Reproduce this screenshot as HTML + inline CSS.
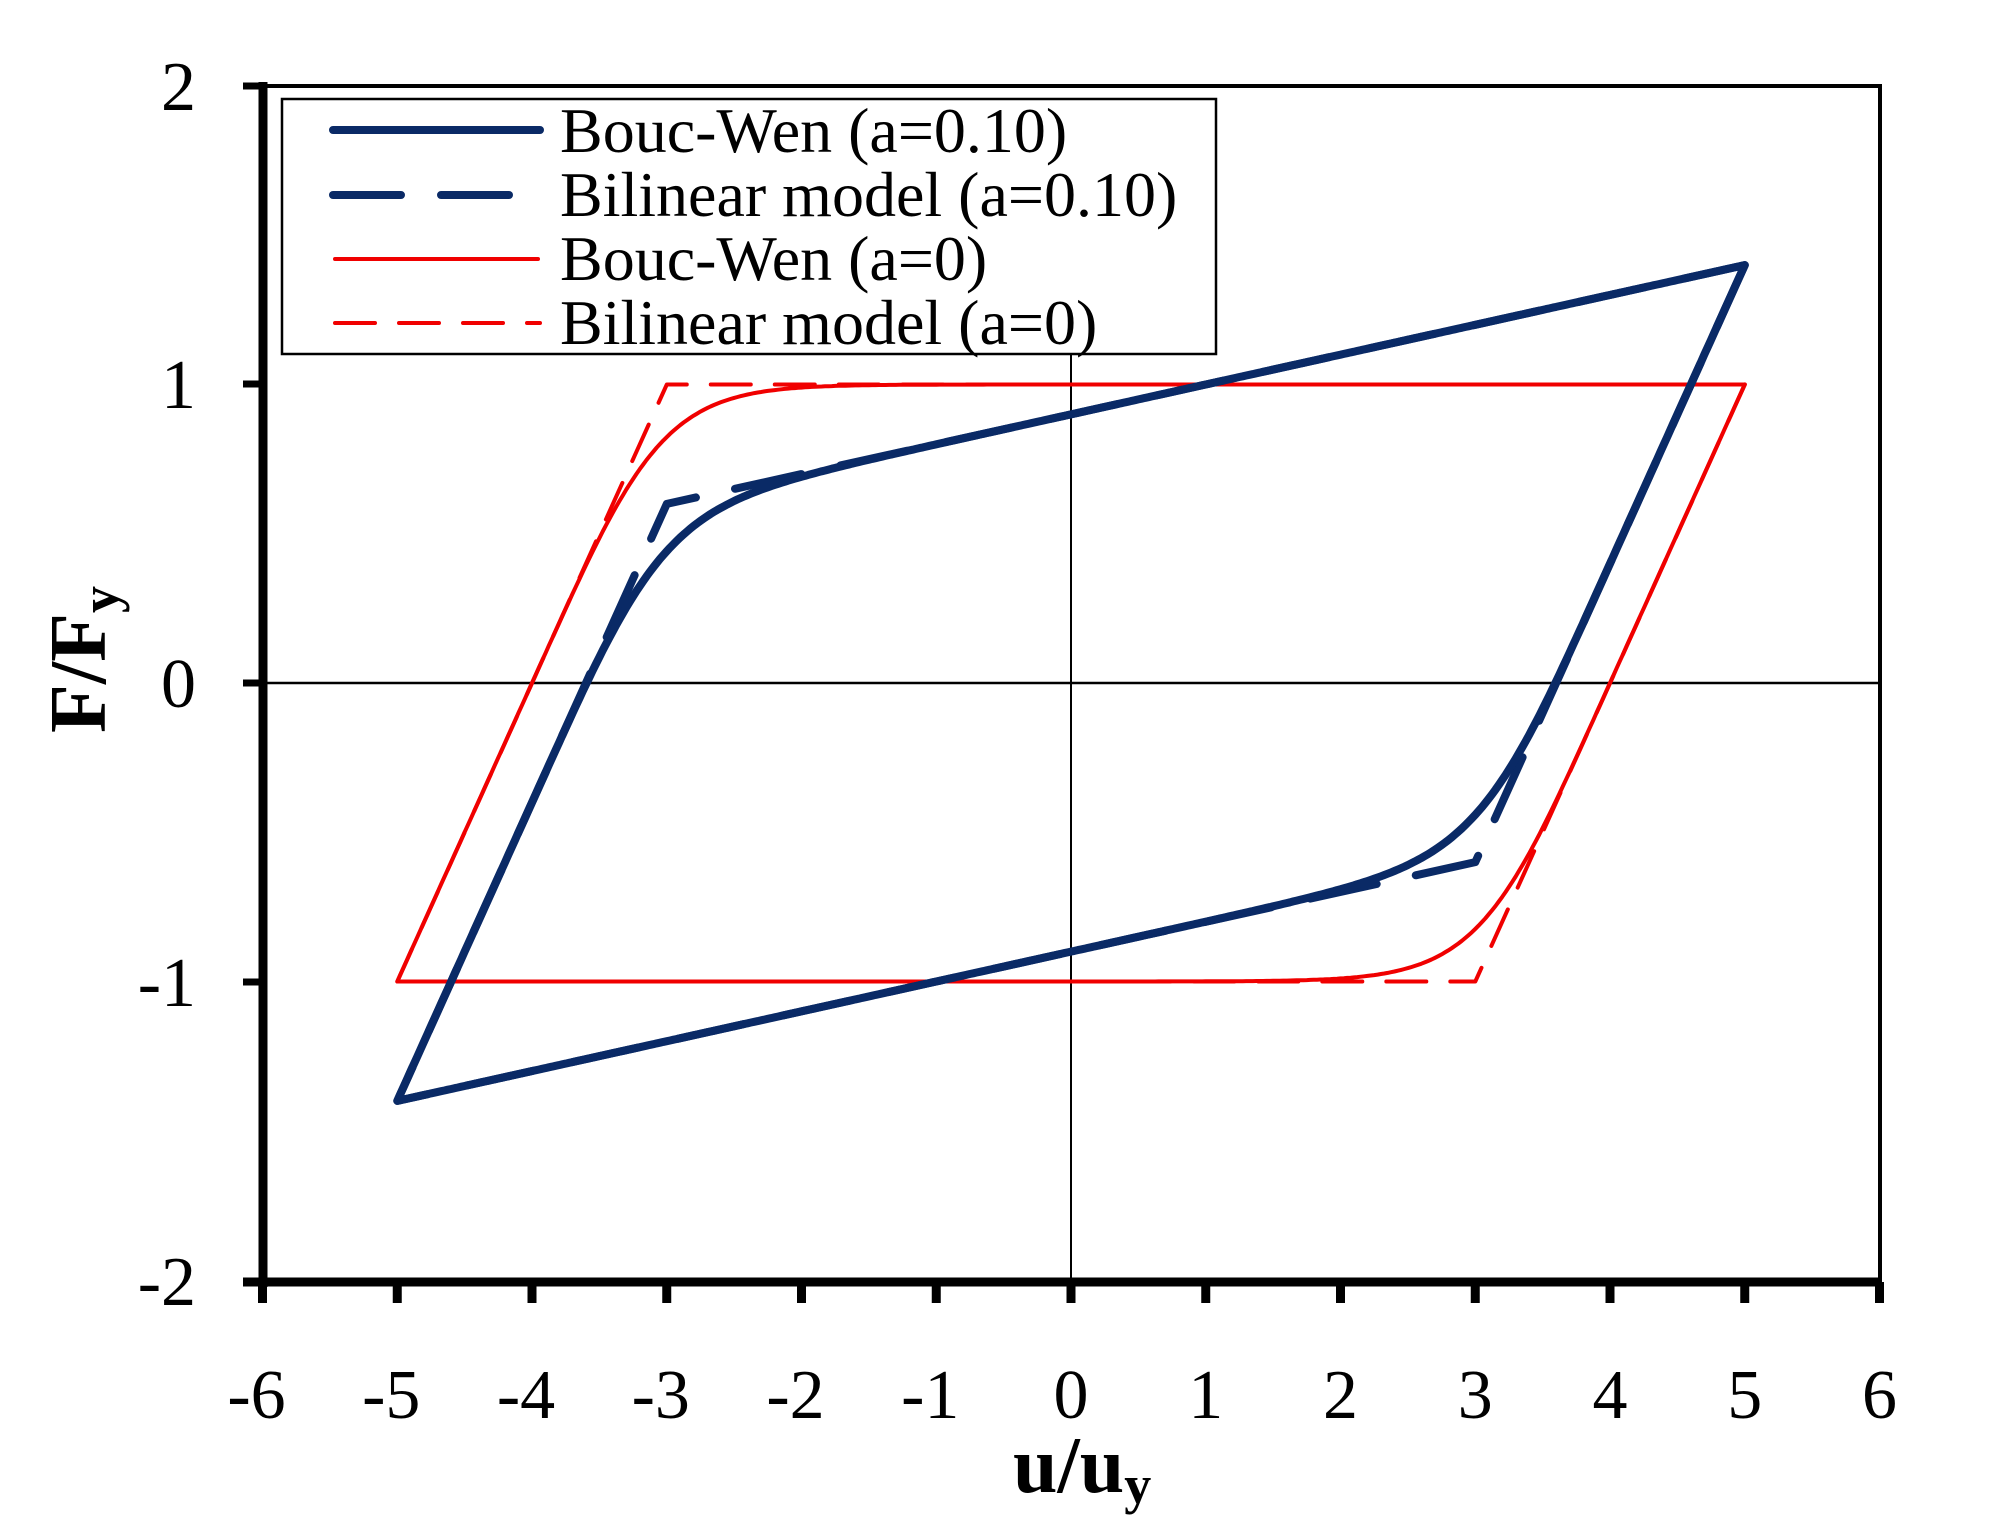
<!DOCTYPE html>
<html><head><meta charset="utf-8"><style>
html,body{margin:0;padding:0;background:#fff;}
svg{display:block;}
text{font-family:"Liberation Serif","Times New Roman",serif;fill:#000;}
</style></head><body>
<svg id="s" width="1995" height="1536" viewBox="0 0 1995 1536" xmlns="http://www.w3.org/2000/svg">
<rect width="1995" height="1536" fill="#fff"/>
<line x1="1071" y1="99" x2="1071" y2="1282" stroke="#000" stroke-width="2"/>
<line x1="263" y1="683" x2="1880" y2="683" stroke="#000" stroke-width="2.5"/>
<g id="series"></g>
<line x1="263" y1="86" x2="1880" y2="86" stroke="#000" stroke-width="4"/>
<line x1="1880" y1="84" x2="1880" y2="1282" stroke="#000" stroke-width="4"/>
<line x1="263" y1="82" x2="263" y2="1287" stroke="#000" stroke-width="9"/>
<line x1="243" y1="1282" x2="1880" y2="1282" stroke="#000" stroke-width="9"/>
<g stroke="#000" stroke-width="7">
<line x1="243" y1="86" x2="263" y2="86"/>
<line x1="243" y1="384" x2="263" y2="384"/>
<line x1="243" y1="683" x2="263" y2="683"/>
<line x1="243" y1="982" x2="263" y2="982"/>
</g>
<g id="xt" stroke="#000" stroke-width="9"></g>
<g font-size="70" text-anchor="end">
<text x="196" y="110">2</text>
<text x="196" y="408">1</text>
<text x="196" y="707">0</text>
<text x="196" y="1006">-1</text>
<text x="196" y="1305">-2</text>
</g>
<g id="xl" font-size="70" text-anchor="middle"></g>
<text x="1013" y="1492" font-size="80" font-weight="bold">u/u<tspan font-size="54" dy="11">y</tspan></text>
<text transform="translate(105,733) rotate(-90)" font-size="80" font-weight="bold">F/F<tspan font-size="54" dy="13">y</tspan></text>
<rect x="282" y="99" width="934" height="255" fill="#fff" stroke="#000" stroke-width="2.5"/>
<g stroke-linecap="round" fill="none">
<line x1="333" y1="130" x2="540" y2="130" stroke="#0a2a66" stroke-width="8"/>
<line x1="333" y1="195" x2="540" y2="195" stroke="#0a2a66" stroke-width="8" stroke-dasharray="68 40"/>
<line x1="335" y1="259" x2="538" y2="259" stroke="#f00000" stroke-width="4"/>
<line x1="335" y1="323" x2="540" y2="323" stroke="#f00000" stroke-width="4" stroke-dasharray="40 24"/>
</g>
<g font-size="64">
<text x="560" y="152">Bouc-Wen (a=0.10)</text>
<text x="560" y="216">Bilinear model (a=0.10)</text>
<text x="560" y="280">Bouc-Wen (a=0)</text>
<text x="560" y="344">Bilinear model (a=0)</text>
</g>
</svg>
<script>
(function(){
var NS="http://www.w3.org/2000/svg";
function X(u){return 1071+u*134.75;}
function Y(f){return 683-f*298.5;}
var xt=document.getElementById('xt'),xl=document.getElementById('xl');
for(var i=-6;i<=6;i++){
 var l=document.createElementNS(NS,'line');
 l.setAttribute('x1',X(i));l.setAttribute('x2',X(i));l.setAttribute('y1',1282);l.setAttribute('y2',1303);
 xt.appendChild(l);
 var t=document.createElementNS(NS,'text');
 t.setAttribute('x',X(i)-(i<0?6:0));t.setAttribute('y',1418);t.textContent=String(i);
 xl.appendChild(t);
}
function path(pts,color,w,dash){
 var d='';for(var i=0;i<pts.length;i++){d+=(i?'L':'M')+X(pts[i][0]).toFixed(1)+' '+Y(pts[i][1]).toFixed(1);}
 var p=document.createElementNS(NS,'path');
 p.setAttribute('d',d);p.setAttribute('fill','none');p.setAttribute('stroke',color);
 p.setAttribute('stroke-width',w);p.setAttribute('stroke-linejoin','round');p.setAttribute('stroke-linecap','round');
 if(dash)p.setAttribute('stroke-dasharray',dash);
 document.getElementById('series').appendChild(p);
}
function bw(a,n){
 var z=1,pts=[],du=0.005,u=5;
 pts.push([u,a*u+(1-a)*z]);
 var dirs=[-1,1];
 for(var k=0;k<2;k++){var s=dirs[k];
  for(var j=0;j<2000;j++){
   var dz=(s*z>0)?(1-Math.pow(Math.abs(z),n)):1;
   z+=s*du*dz; u+=s*du;
   if(j%5==4)pts.push([u,a*u+(1-a)*z]);
  }}
 return pts;
}
var navy="#0a2a66",red="#f00000";
path([[5,1],[3,-1],[-5,-1],[-3,1],[5,1]],red,4,"40 24");
path(bw(0,3),red,4);
path([[5,1.4],[3,-0.6],[-5,-1.4],[-3,0.6],[5,1.4]],navy,8,"68 40");
path(bw(0.1,3),navy,8);
})();
</script>
</body></html>
